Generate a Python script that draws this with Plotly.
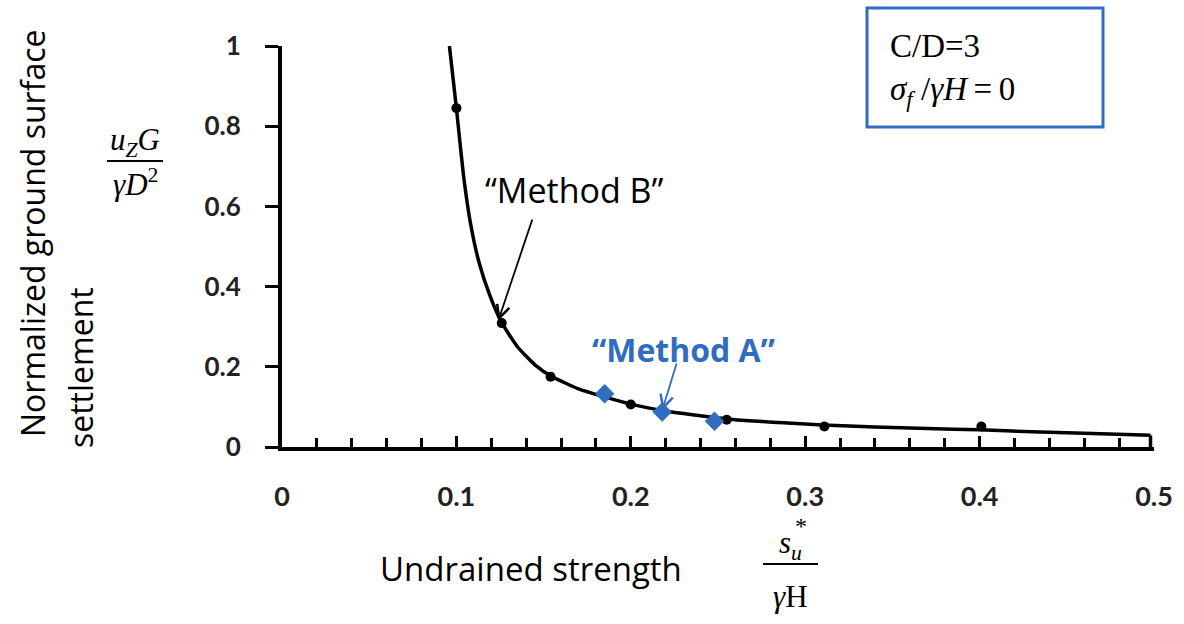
import plotly.graph_objects as go

# Smooth settlement curve
curve_x = [0.096, 0.100, 0.104, 0.108, 0.113, 0.119, 0.126, 0.135, 0.145, 0.155,
           0.170, 0.185, 0.200, 0.220, 0.240, 0.260, 0.285, 0.310, 0.340, 0.370,
           0.400, 0.430, 0.460, 0.498]
curve_y = [1.000, 0.845, 0.680, 0.560, 0.460, 0.380, 0.310, 0.250, 0.205, 0.175,
           0.145, 0.125, 0.107, 0.090, 0.078, 0.068, 0.061, 0.055, 0.050, 0.046,
           0.043, 0.038, 0.034, 0.029]

# Closing segment at the right end of the curve, down to the axis
end_x = [0.498, 0.498]
end_y = [0.029, 0.000]

# "Method B" points
method_b_x = [0.100, 0.126, 0.154, 0.200, 0.255, 0.311, 0.401]
method_b_y = [0.845, 0.309, 0.175, 0.106, 0.068, 0.051, 0.051]

# "Method A" points
method_a_x = [0.185, 0.218, 0.248]
method_a_y = [0.133, 0.087, 0.064]

x_ticks = [0, 0.1, 0.2, 0.3, 0.4, 0.5]
x_ticklabels = ["0", "0.1", "0.2", "0.3", "0.4", "0.5"]
y_ticks = [0, 0.2, 0.4, 0.6, 0.8, 1.0]
y_ticklabels = ["0", "0.2", "0.4", "0.6", "0.8", "1"]

BLUE = "#2f6dc0"
SANS = "Open Sans"
TICKFONT = "Lato"
SERIF = "Liberation Serif"

W, H = 1184, 624
ML, MR, MT, MB = 282, 30, 46, 177
PW, PH = W - ML - MR, H - MT - MB


def px(xp):
    return (xp - ML) / PW


def py(yp):
    return (H - MB - yp) / PH


fig = go.Figure()

fig.add_trace(go.Scatter(x=curve_x, y=curve_y, mode="lines",
                         line=dict(color="black", width=3.5, shape="spline", smoothing=0.5),
                         hoverinfo="skip", showlegend=False, cliponaxis=False))
fig.add_trace(go.Scatter(x=end_x, y=end_y, mode="lines", line=dict(color="black", width=3.5),
                         hoverinfo="skip", showlegend=False, cliponaxis=False))
fig.add_trace(go.Scatter(x=method_b_x, y=method_b_y, mode="markers",
                         marker=dict(color="black", size=10, symbol="circle"), showlegend=False, cliponaxis=False))
fig.add_trace(go.Scatter(x=method_a_x, y=method_a_y, mode="markers",
                         marker=dict(color=BLUE, size=15, symbol="diamond"), showlegend=False, cliponaxis=False))

ann = []
# Axis titles
ann.append(dict(text="Normalized ground surface", xref="paper", yref="paper", x=px(32), y=py(234),
                textangle=-90, showarrow=False, font=dict(family=SANS, size=32, color="black"),
                xanchor="center", yanchor="middle"))
ann.append(dict(text="settlement", xref="paper", yref="paper", x=px(80), y=py(368),
                textangle=-90, showarrow=False, font=dict(family=SANS, size=32, color="black"),
                xanchor="center", yanchor="middle"))
ann.append(dict(text="<i>u</i><sub><i>Z</i></sub><i>G</i>", xref="paper", yref="paper", x=px(135), y=py(142),
                showarrow=False, font=dict(family=SERIF, size=31, color="black"), xanchor="center", yanchor="middle"))
ann.append(dict(text="<i>γD</i><sup>2</sup>", xref="paper", yref="paper", x=px(135), y=py(182),
                showarrow=False, font=dict(family=SERIF, size=31, color="black"), xanchor="center", yanchor="middle"))
ann.append(dict(text="Undrained strength", xref="paper", yref="paper", x=px(531), y=py(568),
                showarrow=False, font=dict(family=SANS, size=33, color="black"), xanchor="center", yanchor="middle"))
ann.append(dict(text="<i>s</i><sub><i>u</i></sub>", xref="paper", yref="paper", x=px(790), y=py(545),
                showarrow=False, font=dict(family=SERIF, size=31, color="black"), xanchor="center", yanchor="middle"))
ann.append(dict(text="*", xref="paper", yref="paper", x=px(801), y=py(526),
                showarrow=False, font=dict(family=SERIF, size=24, color="black"), xanchor="center", yanchor="middle"))
ann.append(dict(text="<i>γ</i>H", xref="paper", yref="paper", x=px(790), y=py(596),
                showarrow=False, font=dict(family=SERIF, size=31, color="black"), xanchor="center", yanchor="middle"))
# Parameter box text
ann.append(dict(text="C/D=3", xref="paper", yref="paper", x=px(888), y=py(46),
                showarrow=False, font=dict(family=SERIF, size=33, color="black"), xanchor="left", yanchor="middle"))
ann.append(dict(text="<i>σ</i><sub><i>f</i></sub> /<i>γH</i>\u2009=\u20090", xref="paper", yref="paper",
                x=px(888), y=py(92), showarrow=False, font=dict(family=SERIF, size=33, color="black"),
                xanchor="left", yanchor="middle"))
# Method labels with arrows
ann.append(dict(text="“Method B”", x=0.168, y=0.641, xref="x", yref="y", showarrow=False,
                font=dict(family=SANS, size=34, color="black")))
ann.append(dict(text="", x=method_b_x[1] - 0.002, y=method_b_y[1] + 0.006, ax=0.1438, ay=0.571,
                xref="x", yref="y", axref="x", ayref="y", showarrow=True,
                arrowhead=5, arrowsize=1.4, arrowwidth=1.8, arrowcolor="black"))
ann.append(dict(text="<b>“Method A”</b>", x=0.23, y=0.243, xref="x", yref="y", showarrow=False,
                font=dict(family=SANS, size=32, color=BLUE)))
ann.append(dict(text="", x=method_a_x[1], y=method_a_y[1] + 0.004, ax=0.2265, ay=0.212,
                xref="x", yref="y", axref="x", ayref="y", showarrow=True,
                arrowhead=5, arrowsize=1.4, arrowwidth=1.8, arrowcolor=BLUE))

shapes = [
    dict(type="rect", xref="paper", yref="paper", x0=px(867), x1=px(1103), y0=py(127), y1=py(8),
         line=dict(color=BLUE, width=3)),
    dict(type="line", xref="paper", yref="paper", x0=px(107), x1=px(163), y0=py(161), y1=py(161),
         line=dict(color="black", width=2)),
    dict(type="line", xref="paper", yref="paper", x0=px(763), x1=px(818), y0=py(564), y1=py(564),
         line=dict(color="black", width=2)),
]

fig.update_layout(
    width=W, height=H,
    margin=dict(l=ML, r=MR, t=MT, b=MB),
    paper_bgcolor="white", plot_bgcolor="white",
    annotations=ann, shapes=shapes,
    xaxis=dict(range=[0, 0.5], tickvals=x_ticks, ticktext=x_ticklabels, showgrid=False, zeroline=False,
               showline=True, linecolor="black", linewidth=4, ticks="inside", ticklen=11, tickwidth=3,
               tickcolor="black", minor=dict(dtick=0.02, ticks="inside", ticklen=9, tickwidth=3, tickcolor="black"),
               tickfont=dict(family=TICKFONT, size=27, color="#222", weight="bold"), ticklabelstandoff=23),
    yaxis=dict(range=[0, 1], tickvals=y_ticks, ticktext=y_ticklabels, showgrid=False, zeroline=False,
               showline=True, linecolor="black", linewidth=4, ticks="outside", ticklen=13, tickwidth=3,
               tickcolor="black", tickfont=dict(family=TICKFONT, size=26, color="#222", weight="bold"),
               ticklabelstandoff=19),
)

fig.write_html("out.html")
